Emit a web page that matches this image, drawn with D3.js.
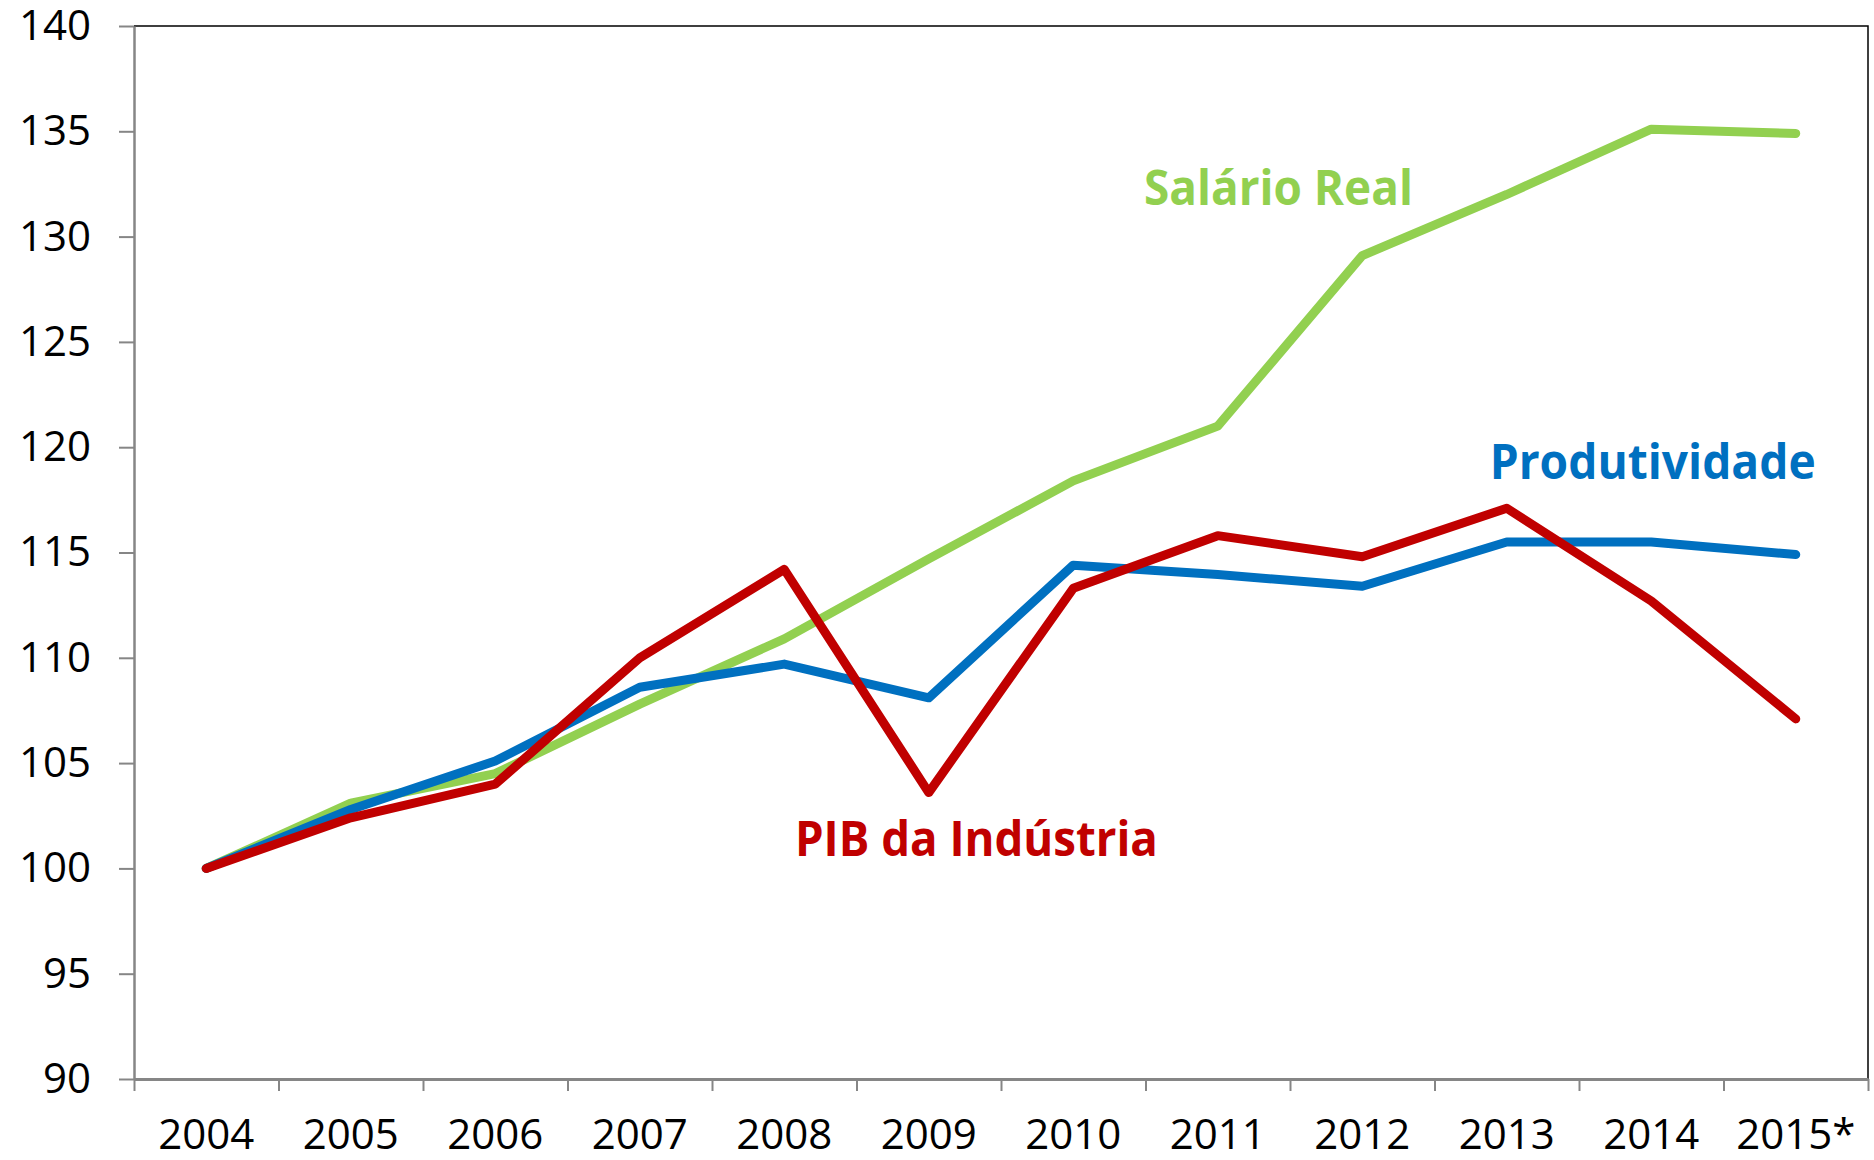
<!DOCTYPE html>
<html lang="pt">
<head>
    <meta charset="UTF-8">
    <title>Salário Real, Produtividade e PIB da Indústria</title>
    <script src="https://cdnjs.cloudflare.com/ajax/libs/d3/7.8.5/d3.min.js"></script>
    <style type="text/css">
        body {
            margin: 0;
            background: #fff;
        }
    </style>
</head>
<body>
<div class="container"></div>
</body>
<script>
    const years = ['2004', '2005', '2006', '2007', '2008', '2009', '2010', '2011', '2012', '2013', '2014', '2015*'];

    const salarioReal = [100, 103.1, 104.5, 107.8, 110.9, 114.7, 118.4, 121.0, 129.1, 132.0, 135.1, 134.9];
    const produtividade = [100, 102.8, 105.1, 108.6, 109.7, 108.1, 114.4, 113.95, 113.4, 115.5, 115.5, 114.9];
    const pibIndustria = [100, 102.4, 104.0, 110.0, 114.2, 103.6, 113.3, 115.8, 114.8, 117.1, 112.7, 107.1];

    const yTicks = [90, 95, 100, 105, 110, 115, 120, 125, 130, 135, 140];

    // series name, values, colour, label anchor (position in category units, value)
    const series = [
        {name: 'Salário Real', values: salarioReal, color: '#92D050', at: 7.92, v: 131.5, w: 269},
        {name: 'Produtividade', values: produtividade, color: '#0070C0', at: 10.51, v: 118.5, w: 326},
        {name: 'PIB da Indústria', values: pibIndustria, color: '#C00000', at: 5.83, v: 100.6, w: 363}
    ];

    const width = 1874;
    const height = 1160;
    const plotLeft = 134, plotRight = 1868, plotTop = 26, plotBottom = 1079;

    const svg = d3.select('.container')
        .append('svg')
        .attr('width', width)
        .attr('height', height);

    const xScale = d3.scaleBand()
        .domain(years)
        .range([plotLeft, plotRight]);

    const edgeScale = d3.scaleLinear()
        .domain([0, years.length])
        .range([plotLeft, plotRight]);

    const yScale = d3.scaleLinear()
        .domain([90, 140])
        .range([plotBottom, plotTop]);

    const xPos = i => xScale(years[i]) + xScale.bandwidth() / 2;

    // plot frame (top and right)
    svg.append('path')
        .attr('fill', 'none')
        .attr('stroke', '#000')
        .attr('stroke-width', 1.5)
        .attr('d', `M${plotLeft},${plotTop}H${plotRight}V${plotBottom}`);

    // y axis
    const yAxis = d3.axisLeft(yScale)
        .tickValues(yTicks)
        .tickSize(15)
        .tickSizeOuter(0)
        .tickPadding(28);

    const gy = svg.append('g')
        .attr('transform', `translate(${plotLeft},0)`)
        .call(yAxis);

    gy.select('.domain').attr('stroke', '#868686').attr('stroke-width', 2.5);
    gy.selectAll('.tick line').attr('stroke', '#868686').attr('stroke-width', 2);
    gy.selectAll('.tick text')
        .attr('fill', '#000')
        .attr('font-family', 'Open Sans, sans-serif')
        .attr('font-size', 42);

    // x axis: ticks on category edges
    const xEdgeAxis = d3.axisBottom(edgeScale)
        .tickValues(d3.range(0, years.length + 1))
        .tickFormat('')
        .tickSize(12)
        .tickSizeOuter(0);

    const gx = svg.append('g')
        .attr('transform', `translate(0,${plotBottom})`)
        .call(xEdgeAxis);

    gx.select('.domain').attr('stroke', '#868686').attr('stroke-width', 3);
    gx.selectAll('.tick line').attr('stroke', '#868686').attr('stroke-width', 2);

    const xAxis = d3.axisBottom(xScale)
        .tickSize(0)
        .tickPadding(40);

    const gxl = svg.append('g')
        .attr('transform', `translate(0,${plotBottom})`)
        .call(xAxis);

    gxl.select('.domain').remove();
    gxl.selectAll('.tick text')
        .attr('fill', '#000')
        .attr('font-family', 'Open Sans, sans-serif')
        .attr('font-size', 42);

    // lines
    const line = d3.line()
        .x((d, i) => xPos(i))
        .y(d => yScale(d));

    svg.selectAll('path.series')
        .data(series)
        .enter()
        .append('path')
        .attr('class', 'series')
        .attr('fill', 'none')
        .attr('stroke', d => d.color)
        .attr('stroke-width', 9)
        .attr('stroke-linejoin', 'round')
        .attr('stroke-linecap', 'round')
        .attr('d', d => line(d.values));

    // labels
    svg.selectAll('text.label')
        .data(series)
        .enter()
        .append('text')
        .attr('class', 'label')
        .attr('fill', d => d.color)
        .attr('font-family', 'Open Sans, sans-serif')
        .attr('font-weight', 'bold')
        .attr('font-size', 49)
        .attr('text-anchor', 'middle')
        .attr('textLength', d => d.w)
        .attr('lengthAdjust', 'spacingAndGlyphs')
        .attr('x', d => edgeScale(d.at))
        .attr('y', d => yScale(d.v))
        .text(d => d.name);
</script>
</html>
